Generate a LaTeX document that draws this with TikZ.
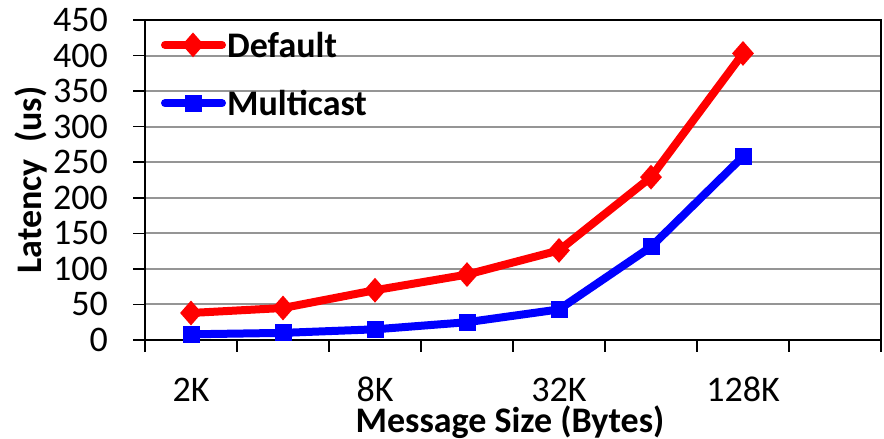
\documentclass[tikz,border=0pt]{standalone}
\usepackage{fontspec}
\setmainfont{Carlito}
\usetikzlibrary{shapes.geometric}
\definecolor{dflt}{HTML}{FF0000}
\definecolor{mcst}{HTML}{0000FF}
\definecolor{grd}{HTML}{959595}
\tikzset{
  gridln/.style={draw=grd,line width=2pt},
  axisln/.style={draw=black,line width=2pt},
  tickln/.style={draw=black,line width=1.6pt},
  ticklab/.style={font=\fontsize{36}{36}\selectfont,inner sep=0pt},
  axlab/.style={font=\fontsize{36}{36}\selectfont\bfseries,inner sep=0pt},
  leglab/.style={font=\fontsize{36}{36}\selectfont\bfseries,inner sep=0pt,anchor=west},
  dline/.style={draw=dflt,line width=8pt,line join=round,line cap=round},
  mline/.style={draw=mcst,line width=8pt,line join=round,line cap=round},
  dmark/.style={diamond,fill=dflt,inner sep=0pt,minimum width=22pt,minimum height=25pt},
  smark/.style={rectangle,fill=mcst,inner sep=0pt,minimum width=17pt,minimum height=17pt},
}

\begin{document}
\begin{tikzpicture}[x=1pt,y=1pt]
\useasboundingbox (0,0) rectangle (884,439);
\begin{scope}[shift={(145pt,99pt)},y=0.7111pt]
% grid and frame
\foreach \v in {50,100,...,400}
  \draw[gridln] (0,\v) -- (736,\v);
\draw[tickln] (0,450) -- (736,450) -- (736,0);
\foreach \v in {0,50,...,450} {
  \draw[tickln] (-12,\v) -- (0,\v);
  \node[ticklab,anchor=east] (yl\v) at (-37,\v) {\v};
}
\foreach \i in {0,...,8}
  \draw[tickln] (\i*92,0) -- (\i*92,-17);
\draw[axisln] (-12,0) -- (736,0);
\draw[axisln] (0,-17) -- (0,450);
% category labels
\foreach \i/\t in {0/2K,2/8K,4/32K,6/128K}
  \node[ticklab] (xl\i) at (46+\i*92,-70) {\t};
\node[axlab] (xt) at (365,-116) {Message Size (Bytes)};
\node[axlab,rotate=90] (yt) at (-114,225) {Latency\ \ (us)};
% data
\foreach \i/\d/\m in {1/38/8,2/45/10,3/70/15,4/92/25,5/126/43,6/229/131,7/403/258} {
  \coordinate (d\i) at (46+\i*92-92,\d);
  \coordinate (m\i) at (46+\i*92-92,\m);
}
\draw[dline] (d1) -- (d2) -- (d3) -- (d4) -- (d5) -- (d6) -- (d7);
\draw[mline] (m1) -- (m2) -- (m3) -- (m4) -- (m5) -- (m6) -- (m7);
\foreach \i in {1,...,7} {
  \node[dmark] (dm\i) at (d\i) {};
  \node[smark] (mm\i) at (m\i) {};
}
% legend
\coordinate (ld0) at (20,415);
\coordinate (ld1) at (77,415);
\coordinate (lm0) at (20,333);
\coordinate (lm1) at (77,333);
\draw[dline] (ld0) -- (ld1);
\draw[mline] (lm0) -- (lm1);
\node[dmark] (ldm) at (48,415) {};
\node[smark] (lmm) at (48,333) {};
\node[leglab] (ldt) at (82,415) {Default};
\node[leglab] (lmt) at (82,333) {Multicast};
\end{scope}
\end{tikzpicture}
\end{document}
